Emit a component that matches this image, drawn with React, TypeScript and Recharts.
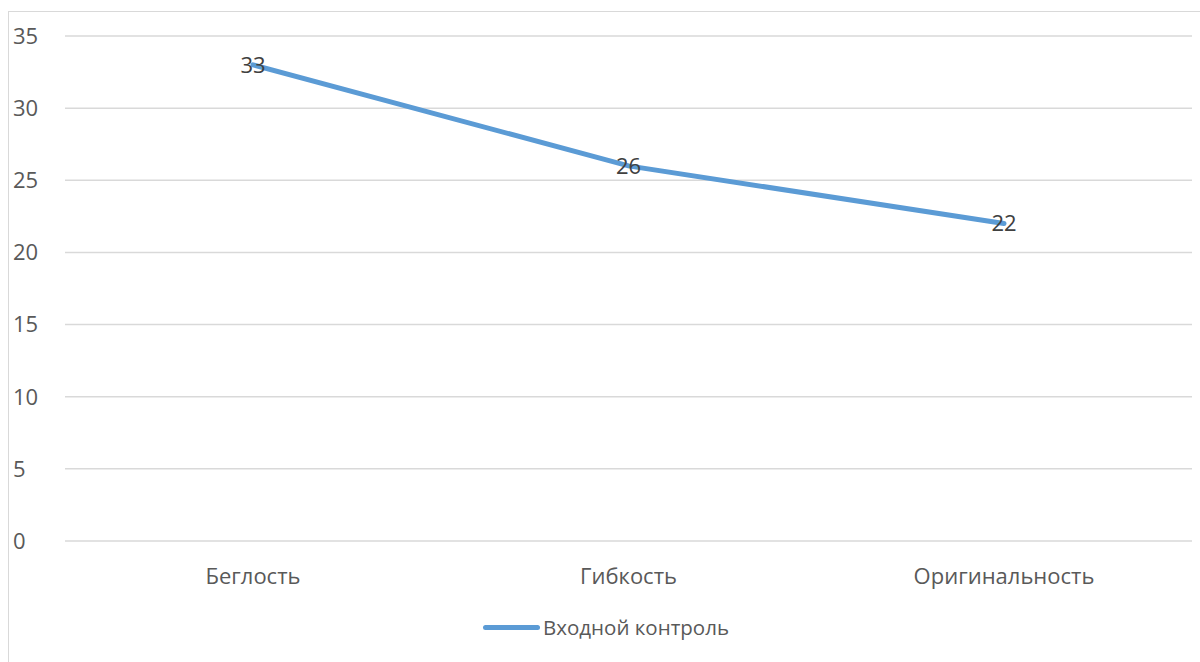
import React from "react"
import { LineChart, Line, XAxis, YAxis, CartesianGrid, LabelList } from "recharts"

const categories = ["Беглость", "Гибкость", "Оригинальность"]
const entryValues = [33, 26, 22]
const yTicks = [0, 5, 10, 15, 20, 25, 30, 35]
const seriesName = "Входной контроль"

const data = categories.map((name, i) => ({ name, value: entryValues[i] }))

const FONT = "'Open Sans', 'Noto Sans', sans-serif"
const TEXT = "#595959"
const BLUE = "#5b9bd5"

function YTick(props: any) {
  const { y, payload } = props
  return (
    <text x={13} y={y} dy="0.36em" textAnchor="start" fill={TEXT} fontSize={22} fontFamily={FONT}>
      {payload.value}
    </text>
  )
}

function XTick(props: any) {
  const { x, y, payload } = props
  return (
    <text x={x} y={y} dy={35} textAnchor="middle" fill={TEXT} fontSize={22} fontFamily={FONT}>
      {payload.value}
    </text>
  )
}

export default function App() {
  return (
    <div style={{ position: "absolute", left: 0, top: 0, width: 1200, height: 662, overflow: "hidden", background: "#fff" }}>
      <div
        style={{
          position: "absolute",
          left: 8,
          top: 11,
          width: 1250,
          height: 700,
          border: "1px solid #d9d9d9",
          boxSizing: "border-box",
        }}
      />
      <div style={{ position: "absolute", left: 0, top: 0 }}>
        <LineChart width={1200} height={662} data={data} margin={{ top: 36, right: 8, left: 8, bottom: 81 }}>
          <CartesianGrid vertical={false} stroke="#d9d9d9" strokeWidth={1.5} />
          <XAxis
            dataKey="name"
            axisLine={false}
            tickLine={false}
            height={40}
            padding={{ left: 188, right: 188 }}
            tick={<XTick />}
            interval={0}
          />
          <YAxis
            domain={[0, 35]}
            ticks={yTicks}
            width={57}
            axisLine={false}
            tickLine={false}
            tick={<YTick />}
            interval={0}
          />
          <Line
            type="linear"
            dataKey="value"
            name={seriesName}
            stroke={BLUE}
            strokeWidth={5}
            strokeLinecap="round"
            dot={false}
            activeDot={false}
            isAnimationActive={false}
          >
            <LabelList
              dataKey="value"
              position="center"
              fill="#404040"
              fontSize={22}
              fontFamily={FONT}
            />
          </Line>
        </LineChart>
      </div>
      <div
        style={{
          position: "absolute",
          left: 483,
          top: 612,
          height: 30,
          display: "flex",
          alignItems: "center",
          fontFamily: FONT,
          fontSize: 20.5,
          color: TEXT,
          whiteSpace: "nowrap",
        }}
      >
        <span style={{ display: "inline-block", width: 57, height: 5, borderRadius: 3, background: BLUE, marginRight: 3 }} />
        <span>{seriesName}</span>
      </div>
    </div>
  )
}
